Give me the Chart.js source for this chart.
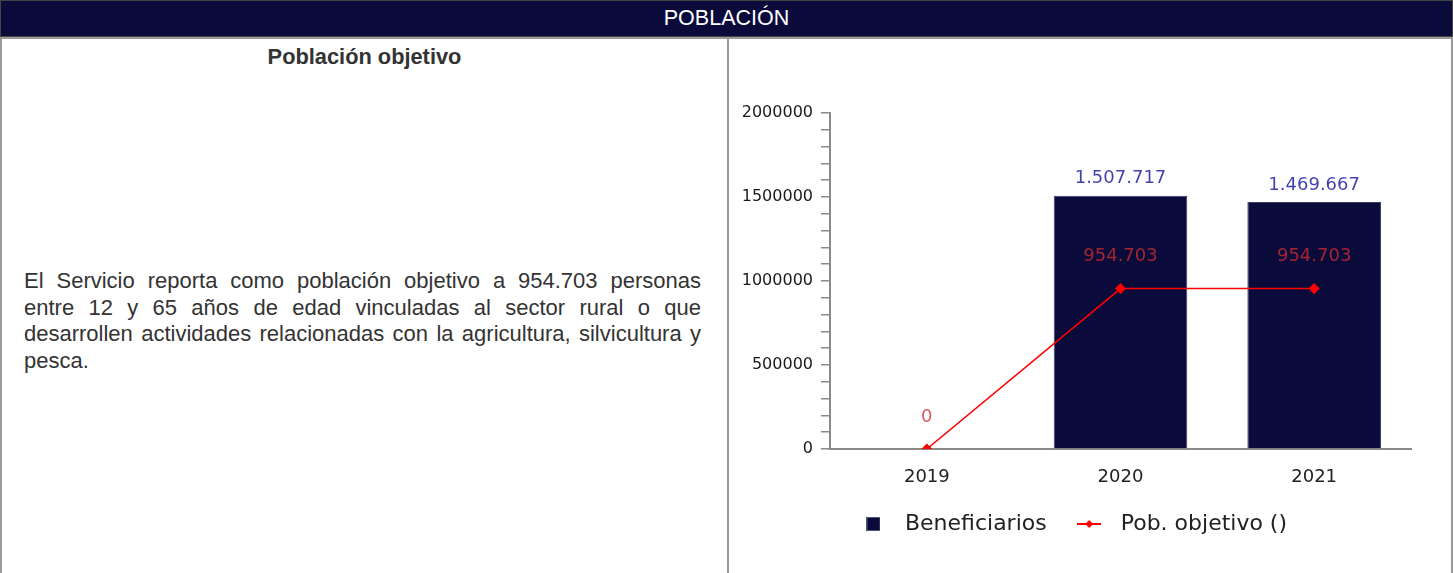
<!DOCTYPE html>
<html>
<head>
<meta charset="utf-8">
<script src="https://cdn.jsdelivr.net/npm/chart.js@4/dist/chart.umd.min.js"></script>
<style>
  body { margin: 0; width: 1453px; height: 573px; overflow: hidden; background: #fff; font-family: "Liberation Sans", Arial, sans-serif; }
  .header { position: absolute; left: 0; top: 0; width: 1451px; height: 35px; background: #0b0b3b; border: 1px solid #444; color: #fff; font-size: 21.5px; line-height: 35px; text-align: center; }
  .left { position: absolute; left: 0; top: 37px; width: 725px; height: 600px; border-top: 2px solid #9a9a9a; border-left: 2px solid #9a9a9a; border-right: 2px solid #9a9a9a; }
  .right { position: absolute; left: 729px; top: 37px; width: 722px; height: 600px; border-top: 2px solid #9a9a9a; border-right: 2px solid #9a9a9a; }
  .title { position: absolute; left: 0; width: 725px; top: 5px; text-align: center; font-weight: bold; font-size: 21.8px; color: #333; }
  .body { position: absolute; left: 22px; width: 677px; top: 229px; font-size: 22px; line-height: 26.7px; text-align: justify; color: #333; }
  .chart { position: absolute; left: 729px; top: 60px; width: 720px; height: 513px; }
</style>
</head>
<body>
<div class="header">POBLACIÓN</div>
<div class="left">
  <div class="title">Población objetivo</div>
  <div class="body">El Servicio reporta como población objetivo a 954.703 personas entre 12 y 65 años de edad vinculadas al sector rural o que desarrollen actividades relacionadas con la agricultura, silvicultura y pesca.</div>
</div>
<div class="right"></div>
<div class="chart"><canvas id="chart"></canvas></div>
<script>
const years = ['2019', '2020', '2021'];
const beneficiarios = [null, 1507717, 1469667];
const pobObjetivo = [0, 954703, 954703];
const seriesNames = ['Beneficiarios', 'Pob. objetivo ()'];

const NAVY = '#0b0b3b';
const RED = '#ff0000';

function fmt(v) {
  return String(v).replace(/\B(?=(\d{3})+(?!\d))/g, '.');
}

// legend symbols as small canvases
function squareIcon() {
  const c = document.createElement('canvas');
  c.width = 14; c.height = 14;
  const g = c.getContext('2d');
  g.fillStyle = '#55557a';
  g.fillRect(0, 0, 14, 14);
  g.fillStyle = NAVY;
  g.fillRect(1, 1, 12, 12);
  return c;
}
function lineIcon() {
  const c = document.createElement('canvas');
  c.width = 24; c.height = 10;
  const g = c.getContext('2d');
  g.strokeStyle = RED;
  g.lineWidth = 2;
  g.beginPath(); g.moveTo(0, 5); g.lineTo(24, 5); g.stroke();
  g.fillStyle = RED;
  g.beginPath(); g.moveTo(12, 1); g.lineTo(16, 5); g.lineTo(12, 9); g.lineTo(8, 5); g.closePath(); g.fill();
  return c;
}
const icons = [squareIcon(), lineIcon()];

const valueLabels = {
  id: 'valueLabels',
  afterDatasetsDraw(chart) {
    const ctx = chart.ctx;
    ctx.save();
    ctx.font = '18px "DejaVu Sans"';
    ctx.textAlign = 'center';
    ctx.textBaseline = 'middle';
    chart.data.datasets.forEach((ds, i) => {
      const meta = chart.getDatasetMeta(i);
      meta.data.forEach((el, j) => {
        const v = ds.data[j];
        if (v === null || v === undefined) return;
        if (ds.type === 'line') {
          ctx.fillStyle = 'rgba(205,45,45,0.78)';
          ctx.fillText(fmt(v), el.x, el.y - 32);
        } else {
          ctx.fillStyle = 'rgba(30,30,160,0.85)';
          ctx.fillText(fmt(v), el.x, el.y - 17);
        }
      });
    });
    ctx.restore();
  }
};

new Chart(document.getElementById('chart'), {
  data: {
    labels: years,
    datasets: [
      {
        type: 'bar',
        label: seriesNames[0],
        data: beneficiarios,
        backgroundColor: NAVY,
        borderColor: '#3c3c66',
        borderWidth: 1,
        barPercentage: 0.69,
        categoryPercentage: 1,
        order: 2
      },
      {
        type: 'line',
        label: seriesNames[1],
        data: pobObjetivo,
        borderColor: RED,
        backgroundColor: RED,
        borderWidth: 1.5,
        pointStyle: 'rectRot',
        pointRadius: 4.5,
        pointBackgroundColor: RED,
        pointBorderColor: RED,
        order: 1
      }
    ]
  },
  options: {
    responsive: true,
    maintainAspectRatio: false,
    animation: false,
    layout: { padding: { left: 0, right: 38, top: 53, bottom: 28 } },
    plugins: {
      tooltip: { enabled: false },
      legend: {
        position: 'bottom',
        labels: {
          usePointStyle: true,
          pointStyleWidth: 41,
          padding: 22,
          color: '#222',
          font: { family: 'DejaVu Sans', size: 22 },
          generateLabels(chart) {
            return chart.data.datasets.map((ds, i) => ({
              text: ds.label,
              pointStyle: icons[i],
              fillStyle: 'transparent',
              strokeStyle: 'transparent',
              lineWidth: 0,
              datasetIndex: i,
              fontColor: '#222'
            }));
          }
        }
      }
    },
    scales: {
      x: {
        grid: { display: false },
        border: { display: true, color: '#8a8a8a', width: 2 },
        ticks: { color: '#222', font: { family: 'DejaVu Sans', size: 18 }, padding: 10 },
        afterFit(s) { s.height = 42; }
      },
      y: {
        min: 0,
        max: 2000000,
        grid: { drawOnChartArea: false, drawTicks: true, tickLength: 9, color: '#8a8a8a', lineWidth: 1.5 },
        border: { display: true, color: '#8a8a8a', width: 2 },
        ticks: {
          stepSize: 100000,
          autoSkip: false,
          padding: 8,
          color: '#1a1a1a',
          font: { family: 'DejaVu Sans', size: 16 },
          callback: v => (v % 500000 === 0 ? String(v) : '')
        },
        afterFit(s) { s.width = 101; }
      }
    }
  },
  plugins: [valueLabels]
});
</script>
</body>
</html>
